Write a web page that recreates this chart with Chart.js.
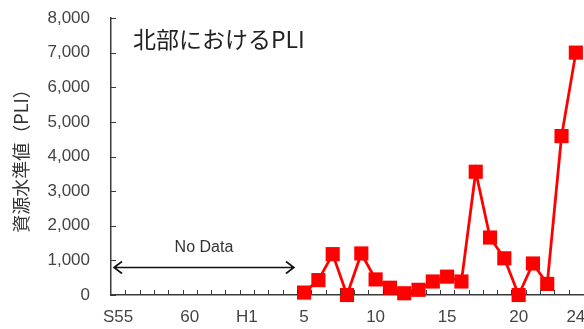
<!DOCTYPE html>
<html>
<head>
<meta charset="utf-8">
<script src="https://cdn.jsdelivr.net/npm/chart.js@4"></script>
<style>
  html, body { margin: 0; padding: 0; background: #fff; }
  #wrap { width: 584px; height: 329px; }
</style>
</head>
<body>
<div id="wrap"><canvas id="pliChart" width="584" height="329"></canvas></div>
<script>
// 年（S55〜S63, H1〜H24）
const years = ['S55', '56', '57', '58', '59', '60', '61', '62', '63',
    'H1', '2', '3', '4', '5', '6', '7', '8', '9', '10', '11', '12', '13', '14',
    '15', '16', '17', '18', '19', '20', '21', '22', '23', '24'];
const shownLabels = ['S55', '60', 'H1', '5', '10', '15', '20', '24'];
const yTicks = [0, 1000, 2000, 3000, 4000, 5000, 6000, 7000, 8000];

// PLI（H5〜H24）
const pliYears = ['5', '6', '7', '8', '9', '10', '11', '12', '13', '14',
    '15', '16', '17', '18', '19', '20', '21', '22', '23', '24'];
const pliValues = [70, 430, 1180, 0, 1200, 450, 210, 50, 150, 390,
    530, 390, 3560, 1660, 1060, 0, 910, 320, 4590, 7000];

const axisColor = '#3a3a3a';
const textColor = '#444';
const tickFont = { family: 'Liberation Sans, Arial, sans-serif', size: 17 };
const jpFont = "'Noto Sans CJK JP', sans-serif";

// 内向きの目盛りと注記
const extras = {
    id: 'extras',
    afterDraw(chart) {
        const ctx = chart.ctx;
        const x = chart.scales.x;
        const y = chart.scales.y;
        ctx.save();
        ctx.strokeStyle = axisColor;
        ctx.lineWidth = 1;
        ctx.beginPath();
        yTicks.forEach(v => {
            const py = Math.round(y.getPixelForValue(v)) + 0.5;
            ctx.moveTo(x.left, py);
            ctx.lineTo(x.left + 5, py);
        });
        for (let i = 1; i < years.length; i++) {
            const px = Math.round((x.getPixelForValue(i) + x.getPixelForValue(i - 1)) / 2) + 0.5;
            ctx.moveTo(px, y.bottom);
            ctx.lineTo(px, y.bottom - 5);
        }
        ctx.stroke();

        // タイトル
        ctx.fillStyle = '#222';
        ctx.font = '23px ' + jpFont;
        ctx.textBaseline = 'middle';
        ctx.textAlign = 'left';
        ctx.fillText('北部におけるPLI', x.left + 22, y.getPixelForValue(7400));

        // No Data 矢印
        const ay = Math.round(y.getPixelForValue(800)) + 0.5;
        const ax1 = x.left + 3;
        const ax2 = (x.getPixelForValue(12) + x.getPixelForValue(13)) / 2 - 3;
        ctx.strokeStyle = '#111';
        ctx.lineWidth = 1.6;
        ctx.beginPath();
        ctx.moveTo(ax1, ay);
        ctx.lineTo(ax2, ay);
        ctx.moveTo(ax1 + 8, ay - 6);
        ctx.lineTo(ax1, ay);
        ctx.lineTo(ax1 + 8, ay + 6);
        ctx.moveTo(ax2 - 8, ay - 6);
        ctx.lineTo(ax2, ay);
        ctx.lineTo(ax2 - 8, ay + 6);
        ctx.stroke();

        ctx.fillStyle = '#333';
        ctx.font = '16px Liberation Sans, Arial, sans-serif';
        ctx.textAlign = 'center';
        ctx.fillText('No Data', (ax1 + ax2) / 2, ay - 20);
        ctx.restore();
    }
};

new Chart(document.getElementById('pliChart'), {
    type: 'line',
    data: {
        labels: years,
        datasets: [{
            label: 'PLI',
            data: pliYears.map((yr, i) => ({ x: yr, y: pliValues[i] })),
            borderColor: '#ff0000',
            backgroundColor: '#ff0000',
            borderWidth: 2.8,
            pointStyle: 'rect',
            pointRadius: 10,
            pointBorderWidth: 0,
            tension: 0,
            clip: false
        }]
    },
    options: {
        responsive: false,
        animation: false,
        layout: { autoPadding: false, padding: { top: 18, right: 1, left: 0, bottom: 0 } },
        plugins: {
            legend: { display: false },
            tooltip: { enabled: false }
        },
        scales: {
            x: {
                type: 'category',
                offset: true,
                grid: { display: false, drawTicks: false },
                border: { display: true, color: axisColor, width: 1.5 },
                ticks: {
                    autoSkip: false,
                    maxRotation: 0,
                    padding: 12,
                    color: textColor,
                    font: tickFont,
                    callback(value) {
                        const lbl = years[value];
                        return shownLabels.includes(lbl) ? lbl : '';
                    }
                },
                afterFit(scale) {
                    scale.height = 34;
                    scale.paddingLeft = 0;
                    scale.paddingRight = 0;
                }
            },
            y: {
                min: 0,
                max: 8000,
                grid: { display: false, drawTicks: false },
                border: { display: true, color: axisColor, width: 1.5 },
                ticks: {
                    stepSize: 1000,
                    padding: 21,
                    color: textColor,
                    font: tickFont,
                    callback: v => v.toLocaleString('en-US')
                },
                title: {
                    display: true,
                    text: '資源水準値（PLI）',
                    color: '#333',
                    font: { family: jpFont, size: 18 },
                    padding: { top: 10, bottom: 0 }
                },
                afterFit(scale) {
                    scale.width = 111;
                    scale.paddingTop = 0;
                    scale.paddingBottom = 0;
                }
            }
        }
    },
    plugins: [extras]
});
</script>
</body>
</html>
